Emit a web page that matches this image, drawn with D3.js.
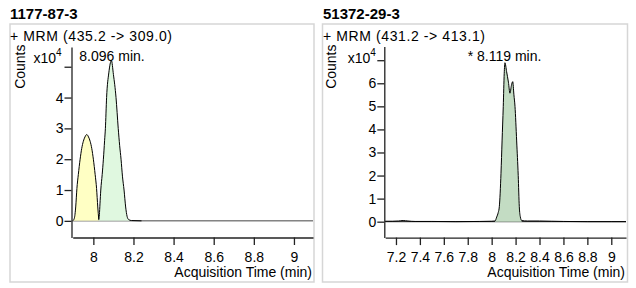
<!DOCTYPE html>
<html><head><meta charset="utf-8">
<script src="https://cdn.jsdelivr.net/npm/d3@7/dist/d3.min.js"></script>
<style>
body{margin:0;background:#fff}
svg{display:block}
text{font-family:"Liberation Sans",Arial,sans-serif;fill:#000}
</style>
</head><body>
<svg id="chart" width="636" height="288"></svg>
<script>
// ---------------- DATA ----------------
const titles = ["1177-87-3", "51372-29-3"];
const transitions = ["+ MRM (435.2 -> 309.0)", "+ MRM (431.2 -> 413.1)"];
const peakLabels = ["8.096 min.", "* 8.119 min."];
const yUnitLabel = "x10";
const yUnitExp = "4";
const yTitle = "Counts";
const xTitle = "Acquisition Time (min)";

const leftXTicks = [8, 8.2, 8.4, 8.6, 8.8, 9];
const leftYTicks = [0, 1, 2, 3, 4, 5];
const leftYTickLabels = ["0", "1", "2", "3", "4", ""];
const rightXTicks = [7.2, 7.4, 7.6, 7.8, 8, 8.2, 8.4, 8.6, 8.8, 9];
const rightYTicks = [0, 1, 2, 3, 4, 5, 6, 7];
const rightYTickLabels = ["0", "1", "2", "3", "4", "5", "6", ""];

// left panel: first (yellow) peak
const leftPeak1Time   = [7.897, 7.905, 7.912, 7.918, 7.925, 7.934, 7.942, 7.950, 7.958, 7.967, 7.976, 7.984, 7.992, 8.000, 8.009, 8.016, 8.022, 8.027];
const leftPeak1Counts = [0.00, 0.08, 0.45, 1.05, 1.50, 2.00, 2.35, 2.58, 2.72, 2.80, 2.72, 2.58, 2.35, 2.00, 1.50, 1.05, 0.45, 0.04];
// left panel: second (green) peak + tail
const leftPeak2Time   = [8.027, 8.030, 8.033, 8.037, 8.044, 8.050, 8.056, 8.060, 8.066, 8.077, 8.090, 8.100, 8.113, 8.124, 8.131, 8.138, 8.145, 8.153, 8.161, 8.168, 8.176, 8.190, 8.240];
const leftPeak2Counts = [0.04, 0.20, 0.55, 1.00, 1.50, 2.00, 2.60, 3.00, 4.00, 4.80, 5.20, 4.75, 4.00, 3.00, 2.45, 2.00, 1.45, 1.00, 0.45, 0.15, 0.04, 0.01, 0.00];

// right panel: full trace
const rightTraceTime   = [7.11, 7.17, 7.22, 7.26, 7.30, 7.36, 7.50, 7.70, 7.90, 8.00, 8.028, 8.042, 8.055, 8.064, 8.078, 8.087, 8.097, 8.105, 8.111, 8.125, 8.140, 8.153, 8.165, 8.176, 8.186, 8.195, 8.209, 8.222, 8.231, 8.240, 8.251, 8.30, 8.40, 8.50, 8.60, 8.80, 9.00, 9.123];
const rightTraceCounts = [0.02, 0.02, 0.03, 0.05, 0.03, 0.01, 0.01, 0.00, 0.01, 0.02, 0.03, 0.20, 0.40, 0.65, 2.10, 3.50, 5.00, 6.43, 6.89, 6.50, 6.05, 5.57, 5.90, 6.07, 5.50, 5.00, 3.50, 2.00, 0.65, 0.20, 0.05, 0.03, 0.03, 0.02, 0.01, 0.00, 0.00, 0.00];
const rightPeakStart = 8.028, rightPeakEnd = 8.251;

// ---------------- LAYOUT ----------------
const panels = [
  {
    box: [10, 24, 304, 258],
    xDomain: [7.897, 9.095], xRange: [72.7, 313],
    yDomain: [-0.54, 5.64], yRange: [237.5, 47],
    axisX: 71.5, xTicks: leftXTicks, yTicks: leftYTicks, yTickLabels: leftYTickLabels,
    titleX: 10, labelX: 79.3, countsX: 25, unitX: 33.5
  },
  {
    box: [322.5, 24, 305, 258],
    xDomain: [7.11, 9.123], xRange: [385.2, 626],
    yDomain: [-0.69, 7.59], yRange: [237.6, 46.6],
    axisX: 384.3, xTicks: rightXTicks, yTicks: rightYTicks, yTickLabels: rightYTickLabels,
    titleX: 323, labelX: 467.7, countsX: 336, unitX: 347.7
  }
];

const svg = d3.select("#chart");

panels.forEach((p, i) => {
  const g = svg.append("g");
  const x = d3.scaleLinear().domain(p.xDomain).range(p.xRange);
  const y = d3.scaleLinear().domain(p.yDomain).range(p.yRange);

  g.append("text").attr("x", p.titleX).attr("y", 18.5)
    .style("font-size", "15px").style("font-weight", "bold")
    .text(titles[i]);
  g.append("rect").attr("x", p.box[0]).attr("y", p.box[1])
    .attr("width", p.box[2]).attr("height", p.box[3])
    .attr("fill", "none").attr("stroke", "#d6d6d6").attr("stroke-width", 1.5);
  g.append("text").attr("x", p.titleX).attr("y", 40.5)
    .style("font-size", "14px").style("letter-spacing", "0.6px")
    .text(transitions[i]);
  g.append("text").attr("transform", `translate(${p.countsX},66.7) rotate(-90)`)
    .attr("text-anchor", "middle").style("font-size", "14px").text(yTitle);
  const u = g.append("text").attr("x", p.unitX).attr("y", 63).style("font-size", "14px");
  u.append("tspan").text(yUnitLabel);
  u.append("tspan").attr("dy", -7).style("font-size", "10px").text(yUnitExp);

  const yAxis = d3.axisLeft(y).tickValues(p.yTicks).tickSize(7).tickSizeOuter(0).tickPadding(1)
    .tickFormat((d, k) => p.yTickLabels[k]);
  const ya = g.append("g").attr("transform", `translate(${p.axisX},0)`).call(yAxis);
  const xAxis = d3.axisBottom(x).tickValues(p.xTicks).tickSize(7.5).tickSizeOuter(0).tickPadding(7)
    .tickFormat(d3.format("~g"));
  const xa = g.append("g").attr("transform", `translate(0,${p.yRange[0]})`).call(xAxis);
  [ya, xa].forEach(a => {
    a.selectAll("text").style("font-size", "14px").style("font-family", '"Liberation Sans",Arial,sans-serif').attr("fill", "#000");
    a.selectAll("line").attr("stroke", "#222").attr("stroke-width", 1.3);
    a.select(".domain").attr("stroke", "#222").attr("stroke-width", 1.3);
  });

  g.append("text").attr("x", p.xRange[1] - 1).attr("y", 277)
    .attr("text-anchor", "end").style("font-size", "14px").text(xTitle);

  g.append("line").attr("x1", p.xRange[0]).attr("x2", p.xRange[1])
    .attr("y1", y(0)).attr("y2", y(0))
    .attr("stroke", i === 0 ? "#444" : "#111").attr("stroke-width", 1);

  const area = d3.area().x(d => x(d[0])).y0(y(0)).y1(d => y(d[1])).curve(d3.curveMonotoneX);
  const line = d3.line().x(d => x(d[0])).y(d => y(d[1])).curve(d3.curveMonotoneX);

  if (i === 0) {
    const s1 = leftPeak1Time.map((t, k) => [t, leftPeak1Counts[k]]);
    const s2 = leftPeak2Time.map((t, k) => [t, leftPeak2Counts[k]]);
    g.append("path").datum(s1).attr("d", area).attr("fill", "#ffffc4");
    g.append("path").datum(s2).attr("d", area).attr("fill", "#e0f8e0");
    g.append("path").datum(s1).attr("d", line).attr("fill", "none").attr("stroke", "#000").attr("stroke-width", 1);
    g.append("path").datum(s2).attr("d", line).attr("fill", "none").attr("stroke", "#000").attr("stroke-width", 1);
  } else {
    const s = rightTraceTime.map((t, k) => [t, rightTraceCounts[k]]);
    const peak = s.filter(d => d[0] >= rightPeakStart && d[0] <= rightPeakEnd);
    g.append("path").datum(peak).attr("d", area).attr("fill", "#c3dcc3");
    g.append("path").datum(s).attr("d", line).attr("fill", "none").attr("stroke", "#000").attr("stroke-width", 1);
  }

  g.append("text").attr("x", p.labelX).attr("y", 61).style("font-size", "14px").text(peakLabels[i]);
});
</script>
</body></html>
